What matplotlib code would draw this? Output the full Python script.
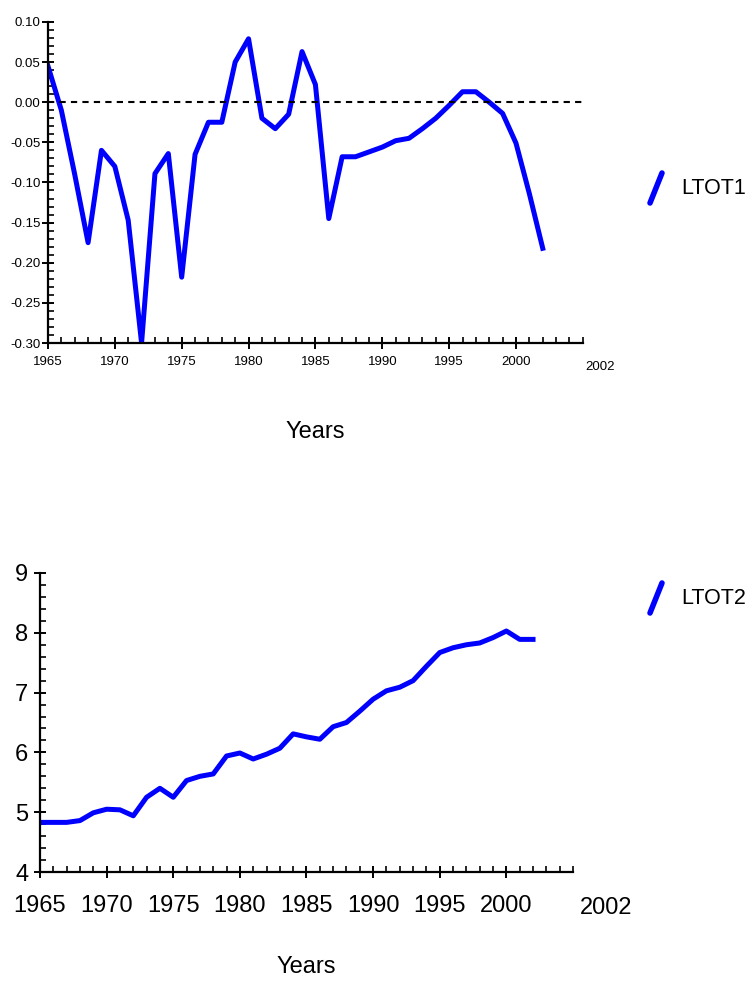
import numpy as np
import matplotlib.pyplot as plt
from matplotlib.lines import Line2D
from matplotlib.ticker import MultipleLocator

plt.rcParams['font.family'] = ['Liberation Sans', 'DejaVu Sans']

years = list(range(1965, 2003))

# LTOT1 - yearly values
ltot1 = [0.045, -0.010, -0.090, -0.175, -0.060, -0.080, -0.147, -0.300,
         -0.089, -0.064, -0.218, -0.065, -0.025, -0.025, 0.050, 0.079,
         -0.020, -0.033, -0.015, 0.063, 0.022, -0.145, -0.068, -0.068,
         -0.062, -0.056, -0.048, -0.045, -0.033, -0.020, -0.004, 0.013,
         0.013, 0.000, -0.014, -0.051, -0.114, -0.182]

# LTOT2 - yearly values
ltot2 = [4.83, 4.83, 4.83, 4.86, 4.99, 5.05, 5.04, 4.94, 5.25, 5.40,
         5.25, 5.53, 5.60, 5.64, 5.94, 5.99, 5.89, 5.97, 6.07, 6.31,
         6.26, 6.22, 6.43, 6.50, 6.69, 6.89, 7.03, 7.09, 7.20, 7.44,
         7.67, 7.75, 7.80, 7.83, 7.92, 8.03, 7.89, 7.89]

xticks = [1965, 1970, 1975, 1980, 1985, 1990, 1995, 2000]
top_yticks = [0.10, 0.05, 0.00, -0.05, -0.10, -0.15, -0.20, -0.25, -0.30]
bot_yticks = [4, 5, 6, 7, 8, 9]

blue = '#0000ff'

fig = plt.figure(figsize=(7.46, 9.82), dpi=100)

def style(ax, labsize):
    for s in ['top', 'right']:
        ax.spines[s].set_visible(False)
    for s in ['left', 'bottom']:
        ax.spines[s].set_linewidth(1.6)
    ax.xaxis.set_minor_locator(MultipleLocator(1))
    ax.tick_params(which='major', direction='inout', length=9, width=1.4,
                   labelsize=labsize, colors='black')
    ax.tick_params(which='minor', direction='in', length=4, width=1.2)

# top panel
ax1 = fig.add_axes([0.0643, 0.6507, 0.717, 0.327])
ax1.plot(years, ltot1, color=blue, lw=3.6, solid_joinstyle='round')
ax1.axhline(0, color='black', ls=(0, (3, 2.5)), lw=1.5)
ax1.set_xlim(1965, 2005)
ax1.set_ylim(-0.30, 0.10)
ax1.set_xticks(xticks)
ax1.set_yticks(top_yticks)
ax1.set_yticklabels(['%.2f' % v for v in top_yticks])
ax1.yaxis.set_minor_locator(MultipleLocator(0.01))
style(ax1, 9.5)
ax1.tick_params(axis='x', pad=5)
ax1.tick_params(axis='y', pad=1)
ax1.set_xlabel('Years', fontsize=17, labelpad=38)
fig.text(0.804, 0.626, '2002', fontsize=9.5, ha='center', va='center')

# bottom panel
ax2 = fig.add_axes([0.0536, 0.112, 0.7145, 0.3045])
ax2.plot(years, ltot2, color=blue, lw=3.6, solid_joinstyle='round')
ax2.set_xlim(1965, 2005)
ax2.set_ylim(4, 9)
ax2.set_xticks(xticks)
ax2.set_yticks(bot_yticks)
ax2.yaxis.set_minor_locator(MultipleLocator(0.2))
style(ax2, 17)
ax2.tick_params(axis='x', pad=12)
ax2.tick_params(axis='y', pad=4)
ax2.set_xlabel('Years', fontsize=17, labelpad=28)
fig.text(0.812, 0.075, '2002', fontsize=17, ha='center', va='center')

# legend glyphs
fig.add_artist(Line2D([650 / 746, 662 / 746], [1 - 203 / 982, 1 - 173 / 982],
                      color=blue, lw=4, solid_capstyle='round'))
fig.text(681 / 746, 1 - 189 / 982, 'LTOT1', fontsize=15.5, ha='left', va='center')
fig.add_artist(Line2D([650 / 746, 662 / 746], [1 - 613 / 982, 1 - 583 / 982],
                      color=blue, lw=4, solid_capstyle='round'))
fig.text(681 / 746, 1 - 599 / 982, 'LTOT2', fontsize=15.5, ha='left', va='center')

fig.savefig('out.png', dpi=100)
